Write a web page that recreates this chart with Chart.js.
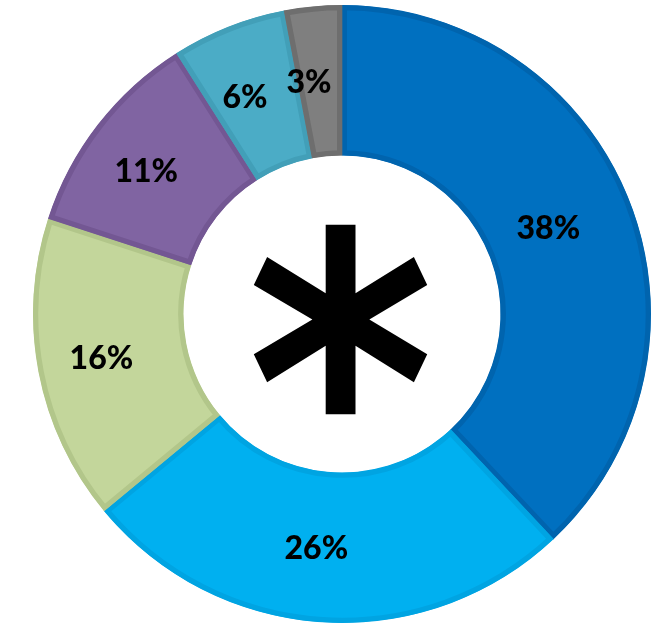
<!DOCTYPE html>
<html>
<head>
<meta charset="utf-8">
<title>Share breakdown</title>
<script src="https://cdn.jsdelivr.net/npm/chart.js@4/dist/chart.umd.min.js"></script>
<style>
  html, body { margin: 0; padding: 0; background: #ffffff; }
  #wrap { width: 670px; height: 630px; }
</style>
</head>
<body>
<div id="wrap"><canvas id="chart" width="670" height="630"></canvas></div>
<script>
// Segment values, in percent, clockwise from 12 o'clock
const categories = ['A', 'B', 'C', 'D', 'E', 'F'];
const shares = [38, 26, 16, 11, 6, 3];
const valueLabels = ['38%', '26%', '16%', '11%', '6%', '3%'];
const centerMark = '*';

const fillColors = ['#0070C0', '#00B0F0', '#C3D69B', '#8064A2', '#4BACC6', '#7F7F7F'];
const edgeColors = ['#0064AE', '#00A4E2', '#B2C68A', '#735793', '#429FB8', '#6E6E6E'];

// Percentage text on each segment plus the large centre mark
const segmentText = {
  id: 'segmentText',
  afterDatasetsDraw(chart, args, opts) {
    const ctx = chart.ctx;
    const meta = chart.getDatasetMeta(0);
    ctx.save();
    ctx.fillStyle = opts.color;
    ctx.font = opts.font;
    ctx.textAlign = 'center';
    ctx.textBaseline = 'middle';
    meta.data.forEach((arc, i) => {
      const p = arc.tooltipPosition();
      ctx.fillText(valueLabels[i], p.x + opts.nudgeX, p.y + opts.nudgeY);
    });

    // centre mark, sized against the hole of the ring
    const arc0 = meta.data[0];
    const cx = arc0.x, cy = arc0.y, inner = arc0.innerRadius;
    ctx.textAlign = 'left';
    ctx.textBaseline = 'alphabetic';
    const base = 100;
    ctx.font = opts.markFont(base);
    let m = ctx.measureText(centerMark);
    const h = m.actualBoundingBoxAscent + m.actualBoundingBoxDescent;
    const size = base * (inner * opts.markScale) / h;
    ctx.font = opts.markFont(size);
    m = ctx.measureText(centerMark);
    const asc = m.actualBoundingBoxAscent, desc = m.actualBoundingBoxDescent;
    const left = m.actualBoundingBoxLeft, right = m.actualBoundingBoxRight;
    ctx.translate(cx, cy + inner * opts.markDrop);
    ctx.scale(opts.markSquash, 1);
    ctx.fillText(centerMark, -(right - left) / 2, (asc - desc) / 2);
    ctx.restore();
  }
};

new Chart(document.getElementById('chart'), {
  type: 'doughnut',
  data: {
    labels: categories,
    datasets: [{
      data: shares,
      backgroundColor: fillColors,
      borderColor: edgeColors,
      borderWidth: 5,
      borderAlign: 'inner',
      borderJoinStyle: 'miter',
      hoverOffset: 0,
      offset: 0
    }]
  },
  options: {
    responsive: false,
    devicePixelRatio: 1,
    animation: false,
    cutout: '51.3%',
    layout: { padding: { left: 33, right: 19, top: 5, bottom: 7 } },
    plugins: {
      legend: { display: false },
      tooltip: { enabled: false },
      segmentText: {
        color: '#000000',
        font: '900 32px Lato',
        nudgeX: -11,
        nudgeY: 1,
        markFont: (s) => 'bold ' + s + 'px "DejaVu Sans"',
        markScale: 1.21,
        markDrop: 0.04,
        markSquash: 0.88
      }
    }
  },
  plugins: [segmentText]
});
</script>
</body>
</html>
